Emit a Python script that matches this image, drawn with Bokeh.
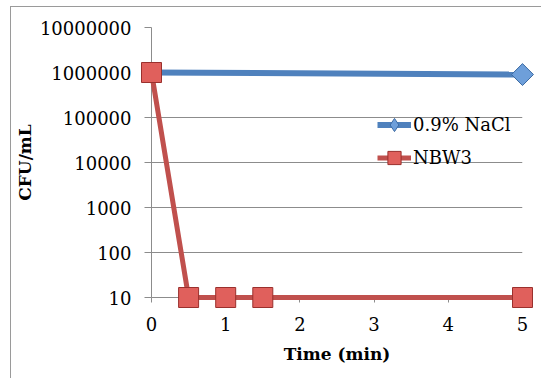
import numpy as np
from bokeh.plotting import figure
from bokeh.models import Range1d, FixedTicker, Legend, LegendItem
from bokeh.embed import file_html
from bokeh.resources import INLINE

# ---- data ----
time_nacl = [0, 5]
cfu_nacl = [1000000, 900000]
time_nbw3 = [0, 0.5, 1, 1.5, 5]
cfu_nbw3 = [1000000, 10, 10, 10, 10]
x_ticks = [0, 1, 2, 3, 4, 5]
x_tick_labels = ["0", "1", "2", "3", "4", "5"]
y_ticks = [10, 100, 1000, 10000, 100000, 1000000, 10000000]
y_tick_labels = ["10", "100", "1000", "10000", "100000", "1000000", "10000000"]
series_names = ["0.9% NaCl", "NBW3"]

FONT = "DejaVu Serif"
GRID = "#8c8c8c"
BLUE = "#4F81BD"
RED = "#C0504D"

p = figure(width=531, height=372, y_axis_type="log",
           x_range=Range1d(0, 5), y_range=Range1d(10, 1e7),
           output_backend="svg", toolbar_location=None,
           min_border_left=136, min_border_right=20,
           min_border_top=20, min_border_bottom=82)
p.styles = {"margin-left": "10px", "margin-top": "6px",
            "border-top": "1px solid #9a9a9a", "border-left": "1px solid #9a9a9a"}
p.outline_line_color = None
p.background_fill_color = "white"
p.border_fill_color = "white"

# grid
p.xgrid.grid_line_color = None
p.ygrid.grid_line_color = GRID
p.ygrid.grid_line_width = 1
p.ygrid.ticker = FixedTicker(ticks=y_ticks)

# axes
p.xaxis.ticker = FixedTicker(ticks=x_ticks)
p.xaxis.major_label_overrides = {t: l for t, l in zip(x_ticks, x_tick_labels)}
p.yaxis.ticker = FixedTicker(ticks=y_ticks)
p.yaxis.major_label_overrides = {t: l for t, l in zip(y_ticks, y_tick_labels)}
for ax in (p.xaxis, p.yaxis):
    ax.axis_line_color = GRID
    ax.major_tick_line_color = GRID
    ax.minor_tick_line_color = None
    ax.major_tick_in = 0
    ax.major_label_text_font = FONT
    ax.major_label_text_font_size = "18px"
    ax.major_label_text_color = "black"
    ax.axis_label_text_font = FONT
    ax.axis_label_text_font_style = "bold"
    ax.axis_label_text_font_size = "17px"
    ax.axis_label_text_color = "black"
p.xaxis.major_tick_out = 5
p.xaxis.major_label_standoff = 14
p.xaxis.axis_label = "Time (min)"
p.xaxis.axis_label_standoff = 10
p.yaxis.major_tick_out = 7
p.yaxis.major_label_standoff = 13
p.yaxis.axis_label = "CFU/mL"
p.yaxis.axis_label_standoff = 2

# diamond used for the legend entry (lies beneath the rotated-square marker on the plot)
proxy = p.scatter(time_nacl[1:], cfu_nacl[1:], marker="diamond", size=18,
                  fill_color="#6E9FDA", line_color="#3D6BA3", line_width=1)
# series (overlay level so markers at the frame edge are not clipped)
l1 = p.line(time_nacl, cfu_nacl, line_color=BLUE, line_width=6, level="overlay")
m1 = p.scatter(time_nacl[1:], cfu_nacl[1:], marker="square", size=15.5, angle=np.pi / 4,
               fill_color="#6E9FDA", line_color="#3D6BA3", line_width=1, level="overlay")
l2 = p.line(time_nbw3, cfu_nbw3, line_color=RED, line_width=5, level="overlay")
m2 = p.scatter(time_nbw3, cfu_nbw3, marker="square", size=20,
               fill_color="#E0605C", line_color="#9A302D", line_width=1, level="overlay")

legend = Legend(items=[LegendItem(label=series_names[0], renderers=[l1, proxy]),
                       LegendItem(label=series_names[1], renderers=[l2, m2])],
                location=(226, 123), orientation="vertical")
legend.background_fill_alpha = 0
legend.border_line_color = None
legend.padding = 0
legend.margin = 0
legend.spacing = 0
legend.glyph_width = 34
legend.glyph_height = 33
legend.label_height = 33
legend.label_standoff = 2
legend.label_text_font = FONT
legend.label_text_font_size = "18px"
legend.label_text_color = "black"
p.add_layout(legend, "center")

open("out.html", "w").write(file_html(p, INLINE))
